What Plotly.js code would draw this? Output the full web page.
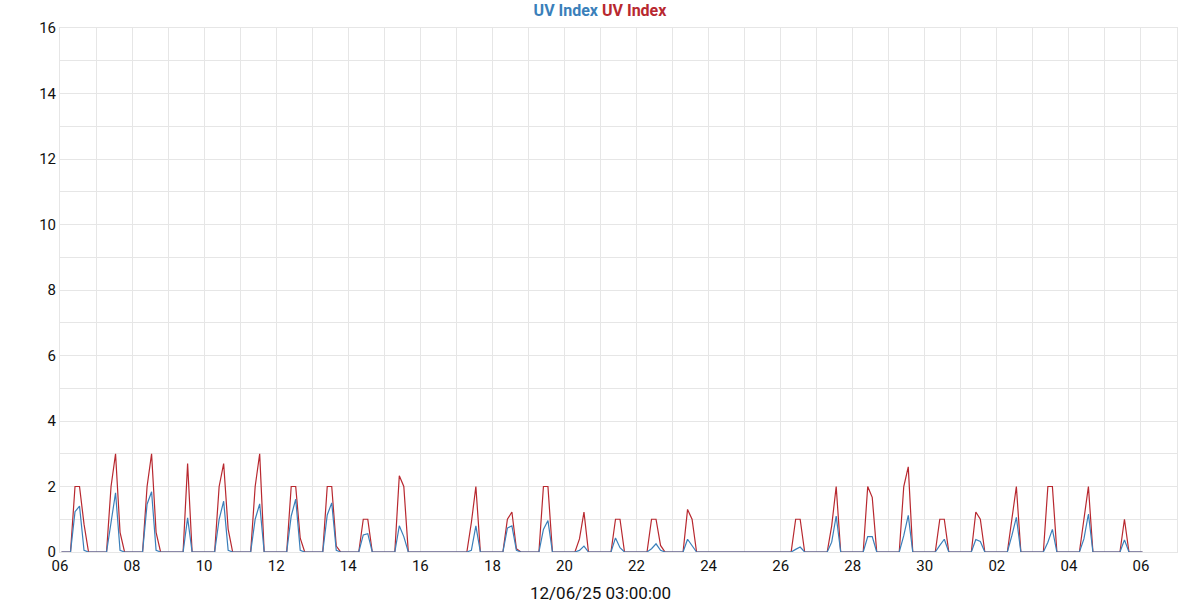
<!DOCTYPE html>
<html>
<head>
<meta charset="utf-8">
<script src="https://cdn.plot.ly/plotly-3.0.1.min.js"></script>
<style>html,body{margin:0;padding:0;background:#fff;}#chart{width:1200px;height:600px;}</style>
</head>
<body>
<div id="chart"></div>
<script>
// Sampling grid: 3-hourly readings starting at this time
const startTime = "2025-11-06T01:00:00";
const stepHours = 3;
const dayLabels = ["06","07","08","09","10","11","12","13","14","15","16","17","18","19","20","21","22","23","24","25","26","27","28","29","30","01","02","03","04","05"];

// Red series (8 readings per day)
const redDays = [
  [0,0,0,2,2,0.85,0,0],
  [0,0,0,2,3,0.6,0,0],
  [0,0,0,2,3,0.6,0,0],
  [0,0,0,0,2.7,0,0,0],
  [0,0,0,2,2.7,0.7,0,0],
  [0,0,0,2,3,0,0,0],
  [0,0,0,2,2,0.42,0,0],
  [0,0,0,2,2,0.18,0,0],
  [0,0,0,1,1,0,0,0],
  [0,0,0,2.33,2,0,0,0],
  [0,0,0,0,0,0,0,0],
  [0,0,0,0.9,2,0,0,0],
  [0,0,0,1,1.22,0.1,0,0],
  [0,0,0,2,2,0,0,0],
  [0,0,0,0.4,1.22,0,0,0],
  [0,0,0,1,1,0,0,0],
  [0,0,0,1,1,0.2,0,0],
  [0,0,0,1.3,1,0,0,0],
  [0,0,0,0,0,0,0,0],
  [0,0,0,0,0,0,0,0],
  [0,0,0,1,1,0,0,0],
  [0,0,0,0.8,2,0,0,0],
  [0,0,0,2,1.67,0,0,0],
  [0,0,0,2,2.6,0,0,0],
  [0,0,0,1,1,0,0,0],
  [0,0,0,1.22,1,0,0,0],
  [0,0,0,1,2,0,0,0],
  [0,0,0,2,2,0,0,0],
  [0,0,0,1,2,0,0,0],
  [0,0,0,0,1,0,0,0]
];
const redLast = 0;

// Blue series (8 readings per day)
const blueDays = [
  [0,0,0,1.23,1.4,0.05,0,0],
  [0,0,0,0.9,1.81,0.05,0,0],
  [0,0,0,1.46,1.84,0.05,0,0],
  [0,0,0,0,1.04,0,0,0],
  [0,0,0,1.0,1.55,0.05,0,0],
  [0,0,0,1.0,1.47,0,0,0],
  [0,0,0,1.1,1.61,0.05,0,0],
  [0,0,0,1.13,1.5,0.05,0,0],
  [0,0,0,0.52,0.56,0,0,0],
  [0,0,0,0.8,0.47,0,0,0],
  [0,0,0,0,0,0,0,0],
  [0,0,0,0.05,0.8,0,0,0],
  [0,0,0,0.73,0.8,0.05,0,0],
  [0,0,0,0.69,0.96,0,0,0],
  [0,0,0,0.05,0.18,0,0,0],
  [0,0,0,0.43,0.13,0,0,0],
  [0,0,0,0.1,0.25,0.05,0,0],
  [0,0,0,0.39,0.21,0,0,0],
  [0,0,0,0,0,0,0,0],
  [0,0,0,0,0,0,0,0],
  [0,0,0,0.08,0.15,0,0,0],
  [0,0,0,0.3,1.1,0,0,0],
  [0,0,0,0.47,0.47,0,0,0],
  [0,0,0,0.5,1.12,0,0,0],
  [0,0,0,0.2,0.39,0,0,0],
  [0,0,0,0.38,0.32,0,0,0],
  [0,0,0,0.5,1.06,0,0,0],
  [0,0,0,0.3,0.69,0,0,0],
  [0,0,0,0.4,1.16,0,0,0],
  [0,0,0,0,0.37,0,0,0]
];
const blueLast = 0;

const seriesName = "UV Index";
const xAxisTitle = "12/06/25 03:00:00";
const blueColor = "#3a7fba";
const redColor = "#b8282f";

function flatten(days, last) {
  const out = [];
  days.forEach(d => d.forEach(v => out.push(v)));
  out.push(last);
  return out;
}
const redY = flatten(redDays, redLast);
const blueY = flatten(blueDays, blueLast);

function pad(n){return (n<10?"0":"")+n;}
const t0 = new Date(startTime + "Z").getTime();
const times = redY.map((_, i) => {
  const d = new Date(t0 + i * stepHours * 3600 * 1000);
  return d.getUTCFullYear()+"-"+pad(d.getUTCMonth()+1)+"-"+pad(d.getUTCDate())+" "+pad(d.getUTCHours())+":00:00";
});

const traces = [
  {x: times, y: redY, type: "scatter", mode: "lines", name: seriesName,
   line: {color: redColor, width: 1.2}, hoverinfo: "x+y"},
  {x: times, y: blueY, type: "scatter", mode: "lines", name: seriesName,
   line: {color: blueColor, width: 1.2}, hoverinfo: "x+y"}
];

const gridColor = "#e6e6e6";
const ml = 60, mr = 23, W = 1200, H = 600;
const layout = {
  width: W, height: H,
  paper_bgcolor: "#fff", plot_bgcolor: "#fff",
  margin: {l: ml, r: mr, t: 28, b: 48},
  showlegend: false,
  font: {family: "Roboto, sans-serif", size: 14, color: "#111"},
  title: {
    text: '<b><span style="color:' + blueColor + '">' + seriesName + '</span> <span style="color:' + redColor + '">' + seriesName + '</span></b>',
    x: 0.5, xanchor: "center", xref: "container",
    yref: "container", y: 1 - 10 / H, yanchor: "middle",
    font: {family: "Roboto, sans-serif", size: 16}
  },
  annotations: [{
    text: xAxisTitle, xref: "paper", yref: "paper",
    x: (W / 2 - ml) / (W - ml - mr), xanchor: "center",
    y: 0, yanchor: "top", yshift: -29, showarrow: false,
    font: {family: "Roboto, sans-serif", size: 17, color: "#111"}
  }],
  xaxis: {
    type: "date",
    range: ["2025-11-06 00:00:00", "2025-12-07 00:00:00"],
    tick0: "2025-11-06", dtick: 2 * 86400000,
    tickformat: "%d",
    showgrid: true, gridcolor: gridColor, gridwidth: 1,
    minor: {dtick: 86400000, showgrid: true, gridcolor: gridColor, gridwidth: 1},
    showline: true, linecolor: gridColor, mirror: true,
    zeroline: false, ticks: "",
    tickfont: {family: "Roboto, sans-serif", size: 15, color: "#111"}
  },
  yaxis: {
    range: [0, 16], dtick: 2, tick0: 0,
    showgrid: true, gridcolor: gridColor, gridwidth: 1,
    minor: {dtick: 1, showgrid: true, gridcolor: gridColor, gridwidth: 1},
    showline: true, linecolor: gridColor, mirror: true,
    zeroline: false, ticks: "",
    tickfont: {family: "Roboto, sans-serif", size: 15, color: "#111"}
  }
};

Plotly.newPlot("chart", traces, layout, {displayModeBar: false, staticPlot: true});
</script>
</body>
</html>
